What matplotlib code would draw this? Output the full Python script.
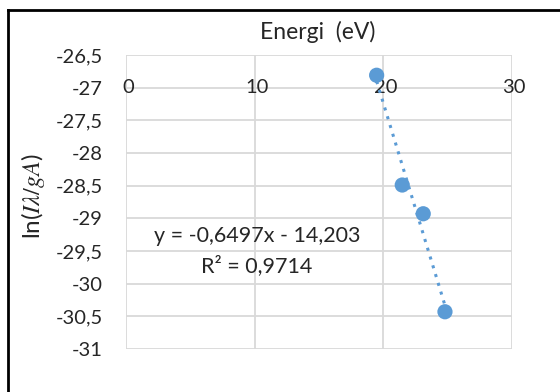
import matplotlib
matplotlib.use("Agg")
import matplotlib.pyplot as plt
import numpy as np
from matplotlib.lines import Line2D

energy = [19.48, 21.47, 23.1, 24.79]
ln_vals = [-26.81, -28.49, -28.93, -30.43]
x_ticks = [0, 10, 20, 30]
y_ticks = [-26.5, -27, -27.5, -28, -28.5, -29, -29.5, -30, -30.5, -31]
equation = "y = -0,6497x - 14,203"
r2_text = "R² = 0,9714"

plt.rcParams['font.family'] = ['Lato', 'DejaVu Sans']
plt.rcParams['mathtext.fontset'] = 'stix'
W, H = 560, 392
fig = plt.figure(figsize=(W/100, H/100), dpi=100)
ax = fig.add_axes([126/W, 1-349/H, (512-126)/W, (349-55)/H])

tc = '#262626'
grid_c = '#d9d9d9'
ax.set_xlim(0, 30)
ax.set_ylim(-31, -26.5)
for s in ax.spines.values():
    s.set_visible(False)
ax.set_xticks([])
ax.set_yticks(y_ticks)
ax.set_yticklabels([f"{v:g}".replace('.', ',') for v in y_ticks], fontsize=14.5, color=tc)
ax.tick_params(axis='y', length=0, pad=16.5)
for v in y_ticks:
    ax.axhline(v, color=grid_c, lw=1.3, zorder=0)
for v in x_ticks:
    ax.axvline(v, color=grid_c, lw=1.3, zorder=0)
for v in x_ticks:
    ax.text(v + 0.15, -27, str(v), ha='center', va='center', fontsize=14.5, color=tc, zorder=1)

coef = np.polyfit(energy, ln_vals, 1)
xs = np.array([min(energy), max(energy)])
ax.plot(xs, np.polyval(coef, xs), linestyle=(0, (1, 2)), color='#5b9bd5', lw=2.2, zorder=2)
ax.scatter(energy, ln_vals, s=120, color='#5b9bd5', zorder=3, edgecolors='none', clip_on=False)

fig.text(257/W, 1-236/H, equation, ha='center', va='center', fontsize=15.5, color=tc)
fig.text(257/W, 1-266/H, r2_text, ha='center', va='center', fontsize=15.5, color=tc)
fig.text(318/W, 1-32/H, "Energi  (eV)", ha='center', va='center', fontsize=16.5, color=tc)
fig.text(33/W, 1-196/H, r"ln($I\lambda/gA$)", ha='center', va='center', rotation=90, fontsize=17.5, color=tc)

fig.add_artist(Line2D([8/W, 8/W], [0, 1-10/H], color='black', lw=2, transform=fig.transFigure))
fig.add_artist(Line2D([8/W, 1], [1-10/H, 1-10/H], color='black', lw=2, transform=fig.transFigure))

fig.savefig("out.png", dpi=100)
